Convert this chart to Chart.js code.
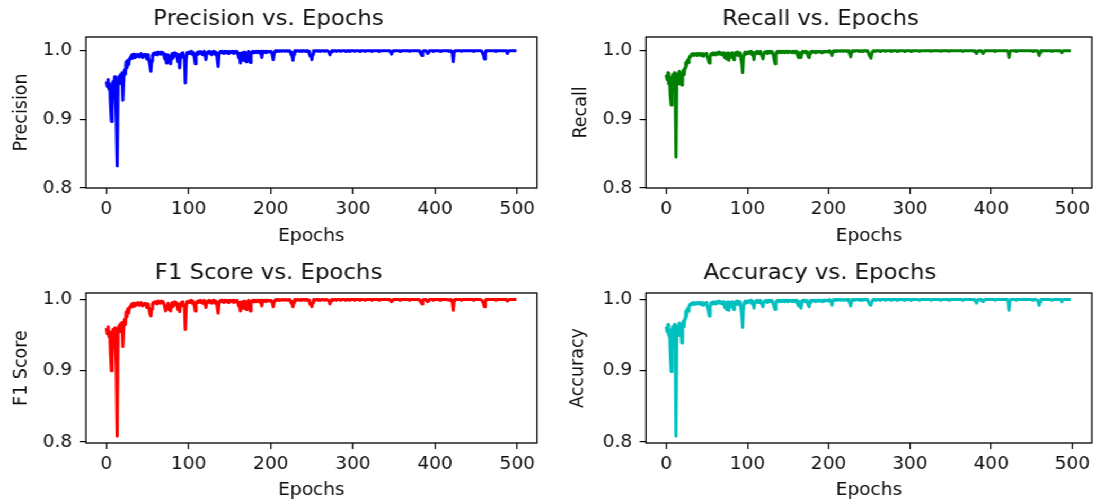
<!DOCTYPE html>
<html>
<head>
<meta charset="utf-8">
<script src="https://cdn.jsdelivr.net/npm/chart.js@4/dist/chart.umd.min.js"></script>
<style>
html, body { margin: 0; padding: 0; background: #fff; overflow: hidden; }
#figure { position: absolute; left: 0; top: 0; width: 1033px; height: 504px;
          transform: scaleX(1.06); transform-origin: 0 0; }
.panel { position: absolute; }
</style>
</head>
<body>
<div id="figure">
  <div class="panel" style="left:0;top:0;width:516px;height:252px"><canvas id="p0"></canvas></div>
  <div class="panel" style="left:516px;top:0;width:517px;height:252px"><canvas id="p1"></canvas></div>
  <div class="panel" style="left:0;top:252px;width:516px;height:252px"><canvas id="p2"></canvas></div>
  <div class="panel" style="left:516px;top:252px;width:517px;height:252px"><canvas id="p3"></canvas></div>
</div>
<script>
// Per-epoch validation metrics (500 epochs)
const precision = [
.955,.948,.958,.944,.952,.920,.897,.915,.955,.945,.962,.940,.900,.832,.950,.962,.952,.965,.955,.968,
.928,.960,.972,.966,.984,.975,.986,.980,.988,.990,.992,.994,.989,.995,.993,.990,.994,.992,.995,.993,
.991,.994,.996,.993,.990,.994,.992,.995,.993,.988,.994,.992,.985,.978,.970,.985,.993,.996,.994,.997,
.995,.997,.994,.998,.996,.997,.995,.998,.996,.997,.993,.988,.995,.982,.990,.994,.985,.991,.981,.993,
.996,.989,.995,.997,.993,.996,.990,.984,.994,.975,.991,.996,.992,.997,.990,.990,.953,.988,.997,.996,
.998,.996,.997,.999,.995,.998,.996,.990,.981,.993,.997,.998,.995,.998,.999,.996,.998,.994,.997,.999,
.993,.987,.996,.998,.997,.999,.996,.998,.994,.997,.999,.998,.995,.998,.997,.986,.977,.995,.998,.999,
.997,.999,.998,.996,.999,.997,.998,.999,.996,.998,.999,.997,.998,.999,.998,.996,.999,.998,.997,.999,
.995,.990,.996,.982,.993,.997,.986,.995,.998,.992,.984,.996,.998,.999,.997,.983,.995,.998,.999,.997,
.999,.998,.999,.997,.999,.998,.999,.996,.999,.990,.997,.999,.998,.999,.997,.999,.998,.999,.999,.998,
.999,.998,.993,.987,.995,.999,1,.999,1,1,.999,1,1,.999,1,1,1,.999,1,1,
1,.999,1,1,.998,.994,.993,.986,.995,1,1,.999,1,1,1,.999,1,1,.999,1,
1,1,.999,1,1,1,.999,.996,.992,.994,.987,.995,1,1,.999,1,1,1,.999,1,
1,.999,1,1,1,1,.999,1,1,1,.999,.997,.994,.998,1,1,.999,1,1,1,
.999,1,1,1,1,.999,1,1,1,1,1,.999,1,1,1,1,.999,1,1,1,
1,1,.999,1,1,1,1,1,.999,1,1,1,1,1,1,.999,1,1,1,1,
1,1,1,.999,1,1,1,1,1,1,1,1,.999,1,1,1,1,1,1,1,
1,1,1,1,1,.999,.998,.995,.999,1,1,1,1,1,1,1,1,.999,1,1,
1,1,1,1,1,1,1,1,1,.999,1,1,1,1,1,1,1,1,1,1,
1,.999,.997,.995,.993,.999,1,1,1,.999,.998,.996,.997,1,1,1,1,1,.999,1,
1,1,1,1,1,1,.999,1,1,1,1,1,1,1,1,1,1,.999,1,1,
.999,.996,.984,.997,1,1,1,1,1,1,1,1,.999,1,1,1,1,1,1,1,
1,1,1,1,1,1,1,.999,1,1,1,1,1,1,1,1,1,.999,.996,.993,
.988,.996,1,1,1,1,1,1,1,1,1,1,1,1,.999,1,1,1,1,1,
1,1,1,1,1,1,1,.998,.996,.999,1,1,1,1,1,1,1,1,1,1
];

const recall = [
.965,.958,.968,.952,.962,.935,.921,.940,.965,.955,.968,.945,.845,.958,.966,.952,.970,.958,.968,.950,
.966,.972,.965,.975,.983,.978,.986,.983,.989,.992,.991,.995,.994,.996,.993,.995,.994,.996,.993,.995,
.996,.994,.995,.993,.996,.994,.992,.995,.994,.996,.993,.990,.986,.982,.991,.995,.996,.994,.997,.995,
.996,.994,.997,.995,.996,.998,.995,.997,.996,.994,.997,.995,.990,.996,.988,.994,.997,.986,.993,.996,
.991,.997,.995,.987,.994,.997,.995,.998,.993,.996,.994,.997,.988,.982,.968,.990,.996,.998,.995,.997,
.998,.996,.998,.997,.999,.995,.998,.993,.987,.996,.998,.997,.999,.996,.998,.997,.999,.995,.992,.988,
.994,.998,.997,.999,.998,.996,.999,.998,.997,.999,.998,.996,.993,.986,.981,.995,.998,.999,.997,.999,
.998,.999,.997,.999,.998,.999,.997,.999,.998,.999,.997,.999,.998,.999,.998,.997,.999,.998,.999,.997,
.999,.996,.992,.990,.997,.994,.990,.996,.999,.998,.999,.997,.999,.998,.995,.991,.990,.996,.999,.998,
.999,.998,.999,.999,.997,.999,.998,.999,.999,.998,.999,.999,.997,.999,.999,.998,.999,.999,.999,.998,
.999,1,.999,.997,.993,.998,1,.999,1,1,.999,1,1,1,.999,1,1,1,.999,1,
1,1,.999,1,1,.998,.995,.991,.996,1,1,1,.999,1,1,1,1,.999,1,1,
1,.999,1,1,1,1,1,.999,1,.997,.993,.992,.989,.995,.999,1,1,1,.999,1,
1,1,1,.999,1,1,1,1,1,1,.999,1,1,1,1,1,1,.999,1,1,
1,1,1,1,.999,1,1,1,1,1,1,1,1,.999,1,1,1,1,1,1,
1,.999,1,1,1,1,1,1,1,1,1,1,.999,1,1,1,1,1,1,1,
1,1,1,1,1,1,.999,1,1,1,1,1,1,1,1,1,1,1,.999,1,
1,1,1,1,1,1,1,1,.999,1,1,1,1,1,1,1,1,1,1,1,
1,1,1,1,1,.999,1,1,1,1,1,1,1,1,1,1,1,1,1,.999,
1,.998,.996,.999,1,1,1,1,.999,.998,.996,.999,1,1,1,1,1,1,1,1,
1,1,1,1,1,.999,1,1,1,1,1,1,1,1,1,1,1,1,1,1,
1,.998,.990,.998,1,1,1,1,1,1,1,.999,1,1,1,1,1,1,1,1,
1,1,1,1,1,1,1,1,1,1,1,.999,1,1,1,1,1,.999,.997,.993,
.997,1,1,1,1,1,1,1,1,1,1,1,1,1,1,.999,1,1,1,1,
1,1,1,1,1,1,.999,.997,.999,1,1,1,1,1,1,1,1,1,1,1
];

const f1Score = [
.960,.952,.962,.948,.955,.922,.900,.918,.958,.948,.960,.942,.905,.808,.952,.963,.955,.966,.956,.968,
.934,.962,.972,.965,.983,.976,.987,.981,.989,.991,.992,.994,.990,.995,.993,.991,.994,.993,.996,.993,
.992,.995,.996,.993,.991,.994,.993,.995,.994,.989,.994,.992,.986,.980,.977,.987,.994,.996,.995,.997,
.995,.997,.994,.998,.996,.997,.995,.998,.996,.997,.994,.989,.984,.990,.992,.995,.986,.992,.984,.994,
.996,.990,.995,.997,.993,.996,.991,.986,.994,.983,.992,.996,.993,.997,.991,.990,.958,.989,.997,.996,
.998,.996,.997,.999,.995,.998,.996,.991,.984,.994,.997,.998,.996,.998,.999,.996,.998,.995,.997,.999,
.994,.989,.996,.998,.997,.999,.996,.998,.995,.997,.999,.998,.995,.998,.997,.988,.981,.995,.998,.999,
.997,.999,.998,.996,.999,.997,.998,.999,.996,.998,.999,.997,.998,.999,.998,.996,.999,.998,.997,.999,
.995,.991,.996,.984,.994,.997,.988,.995,.998,.993,.986,.996,.998,.999,.997,.984,.995,.998,.999,.997,
.999,.998,.999,.997,.999,.998,.999,.996,.999,.991,.997,.999,.998,.999,.997,.999,.998,.999,.999,.998,
.999,.998,.995,.990,.996,.999,1,.999,1,1,.999,1,1,.999,1,1,1,.999,1,1,
1,.999,1,1,.998,.995,.994,.990,.996,1,1,.999,1,1,1,.999,1,1,.999,1,
1,1,.999,1,1,1,.999,.997,.993,.995,.990,.996,1,1,.999,1,1,1,.999,1,
1,.999,1,1,1,1,.999,1,1,1,.999,.997,.994,.998,1,1,.999,1,1,1,
.999,1,1,1,1,.999,1,1,1,1,1,.999,1,1,1,1,.999,1,1,1,
1,1,.999,1,1,1,1,1,.999,1,1,1,1,1,1,.999,1,1,1,1,
1,1,1,.999,1,1,1,1,1,1,1,1,.999,1,1,1,1,1,1,1,
1,1,1,1,1,.999,.999,.997,.999,1,1,1,1,1,1,1,1,.999,1,1,
1,1,1,1,1,1,1,1,1,.999,1,1,1,1,1,1,1,1,1,1,
1,.999,.998,.996,.994,.999,1,1,1,.999,.999,.997,.998,1,1,1,1,1,.999,1,
1,1,1,1,1,1,.999,1,1,1,1,1,1,1,1,1,1,.999,1,1,
.999,.996,.985,.997,1,1,1,1,1,1,1,1,.999,1,1,1,1,1,1,1,
1,1,1,1,1,1,1,.999,1,1,1,1,1,1,1,1,1,.999,.997,.994,
.990,.997,1,1,1,1,1,1,1,1,1,1,1,1,.999,1,1,1,1,1,
1,1,1,1,1,1,1,.999,.998,.999,1,1,1,1,1,1,1,1,1,1
];

const accuracy = [
.962,.955,.965,.950,.958,.925,.899,.930,.962,.952,.965,.942,.808,.955,.963,.950,.967,.957,.966,.939,
.962,.970,.962,.974,.984,.977,.987,.984,.990,.993,.992,.995,.994,.996,.993,.995,.994,.996,.994,.995,
.996,.994,.995,.993,.996,.994,.992,.995,.994,.996,.993,.989,.984,.977,.990,.995,.996,.994,.997,.995,
.996,.994,.997,.995,.996,.998,.995,.997,.996,.994,.997,.995,.989,.996,.986,.994,.997,.985,.993,.996,
.990,.997,.995,.986,.994,.997,.995,.998,.993,.996,.994,.997,.987,.979,.961,.989,.996,.998,.995,.997,
.998,.996,.998,.997,.999,.995,.998,.993,.988,.996,.998,.997,.999,.996,.998,.997,.999,.995,.993,.990,
.995,.998,.997,.999,.998,.996,.999,.998,.997,.999,.998,.996,.993,.989,.986,.995,.998,.999,.997,.999,
.998,.999,.997,.999,.998,.999,.997,.999,.998,.999,.997,.999,.998,.999,.998,.997,.999,.998,.999,.997,
.999,.996,.993,.991,.997,.994,.988,.996,.999,.998,.999,.997,.999,.998,.995,.992,.990,.996,.999,.998,
.999,.998,.999,.999,.997,.999,.998,.999,.999,.998,.999,.999,.997,.999,.999,.998,.999,.999,.999,.998,
.999,1,.999,.997,.992,.998,1,.999,1,1,.999,1,1,1,.999,1,1,1,.999,1,
1,1,.999,1,1,.998,.995,.991,.996,1,1,1,.999,1,1,1,1,.999,1,1,
1,.999,1,1,1,1,1,.999,1,.997,.994,.993,.992,.996,.999,1,1,1,.999,1,
1,1,1,.999,1,1,1,1,1,1,.999,1,1,1,1,1,1,.999,1,1,
1,1,1,1,.999,1,1,1,1,1,1,1,1,.999,1,1,1,1,1,1,
1,.999,1,1,1,1,1,1,1,1,1,1,.999,1,1,1,1,1,1,1,
1,1,1,1,1,1,.999,1,1,1,1,1,1,1,1,1,1,1,.999,1,
1,1,1,1,1,1,1,1,.999,1,1,1,1,1,1,1,1,1,1,1,
1,1,1,1,1,.999,1,1,1,1,1,1,1,1,1,1,1,1,1,.999,
1,.998,.995,.999,1,1,1,1,.999,.998,.997,.999,1,1,1,1,1,1,1,1,
1,1,1,1,1,.999,1,1,1,1,1,1,1,1,1,1,1,1,1,1,
1,.997,.985,.998,1,1,1,1,1,1,1,.999,1,1,1,1,1,1,1,1,
1,1,1,1,1,1,1,1,1,1,1,.999,1,1,1,1,1,.999,.997,.992,
.997,1,1,1,1,1,1,1,1,1,1,1,1,1,1,.999,1,1,1,1,
1,1,1,1,1,1,.999,.997,.999,1,1,1,1,1,1,1,1,1,1,1
];

// Epoch index for every recorded value
const epochs = precision.map((_, i) => i);

const xTicks = [0, 100, 200, 300, 400, 500];
const yTicks = [0.8, 0.9, 1.0];

const FONT = 'DejaVu Sans';
const INK = '#111';

// Black box around each plotting area
const frame = {
  id: 'frame',
  afterDatasetsDraw(chart) {
    const { ctx, chartArea: a } = chart;
    ctx.save();
    ctx.strokeStyle = '#000';
    ctx.lineWidth = 1.3;
    ctx.strokeRect(a.left, a.top, a.right - a.left, a.bottom - a.top);
    ctx.restore();
  }
};

const panels = [
  { id: 'p0', title: 'Precision vs. Epochs', ylabel: 'Precision', values: precision, color: '#0000ff',
    yMin: 0.8, yMax: 1.02, yAxisW: 81.1, padRight: 9.4, titlePad: { top: 6.1, bottom: 5.1 },
    xAxisH: 64, xTitlePad: 5.5, yTitlePad: 10 },
  { id: 'p1', title: 'Recall vs. Epochs', ylabel: 'Recall', values: recall, color: '#008000',
    yMin: 0.8, yMax: 1.02, yAxisW: 93.4, padRight: 0.9, titlePad: { top: 6.1, bottom: 5.1 },
    xAxisH: 64, xTitlePad: 5.5, yTitlePad: 22.3 },
  { id: 'p2', title: 'F1 Score vs. Epochs', ylabel: 'F1 Score', values: f1Score, color: '#ff0000',
    yMin: 0.7986, yMax: 1.0093, yAxisW: 81.1, padRight: 9.4, titlePad: { top: 8.4, bottom: 6.8 },
    xAxisH: 61, xTitlePad: 3.4, yTitlePad: 10 },
  { id: 'p3', title: 'Accuracy vs. Epochs', ylabel: 'Accuracy', values: accuracy, color: '#00bfbf',
    yMin: 0.7986, yMax: 1.0093, yAxisW: 93.4, padRight: 1.9, titlePad: { top: 8.4, bottom: 6.8 },
    xAxisH: 61, xTitlePad: 3.4, yTitlePad: 19.1 }
];

const tickFont = { family: FONT, size: 17.5 };

panels.forEach(p => {
  new Chart(document.getElementById(p.id), {
    type: 'line',
    data: {
      labels: epochs,
      datasets: [{
        data: p.values,
        borderColor: p.color,
        borderWidth: 3,
        pointRadius: 0,
        fill: false,
        tension: 0,
        borderJoinStyle: 'round'
      }]
    },
    options: {
      responsive: true,
      maintainAspectRatio: false,
      devicePixelRatio: 1,
      animation: false,
      events: [],
      layout: { padding: { left: 0, right: p.padRight, top: 0, bottom: 0 } },
      plugins: {
        legend: { display: false },
        tooltip: { enabled: false },
        title: {
          display: true,
          text: p.title,
          color: INK,
          font: { family: FONT, size: 21.5, weight: 'normal', lineHeight: 1.2 },
          padding: p.titlePad
        }
      },
      scales: {
        x: {
          type: 'linear',
          min: -24.95,
          max: 523.95,
          afterBuildTicks: s => { s.ticks = xTicks.map(v => ({ value: v })); },
          afterFit: s => { s.height = p.xAxisH; },
          ticks: { color: INK, font: tickFont, padding: 4.5, maxRotation: 0, autoSkip: false,
                   callback: v => String(v) },
          grid: { display: true, drawOnChartArea: false, drawTicks: true, tickLength: 6,
                  color: '#000', lineWidth: 1.2 },
          border: { display: false },
          title: { display: true, text: 'Epochs', color: INK, font: tickFont,
                   padding: { top: 0, bottom: p.xTitlePad } }
        },
        y: {
          type: 'linear',
          min: p.yMin,
          max: p.yMax,
          afterBuildTicks: s => { s.ticks = yTicks.map(v => ({ value: v })); },
          afterFit: s => { s.width = p.yAxisW; },
          ticks: { color: INK, font: tickFont, padding: 7, autoSkip: false,
                   callback: v => v.toFixed(1) },
          grid: { display: true, drawOnChartArea: false, drawTicks: true, tickLength: 6,
                  color: '#000', lineWidth: 1.2 },
          border: { display: false },
          title: { display: true, text: p.ylabel, color: INK, font: tickFont,
                   padding: { top: p.yTitlePad, bottom: 0 } }
        }
      }
    },
    plugins: [frame]
  });
});
</script>
</body>
</html>
